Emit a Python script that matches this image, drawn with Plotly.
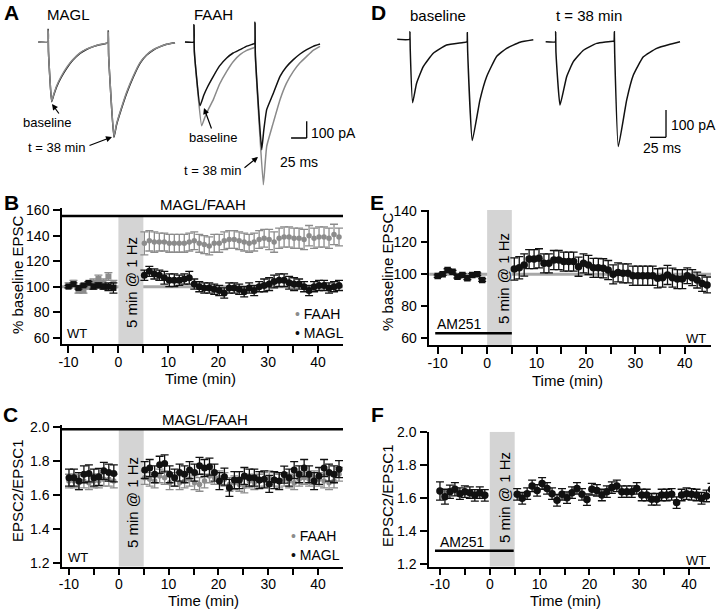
import plotly.graph_objects as go

W, H = 720, 609
FONT = "Liberation Sans, Arial, Helvetica, sans-serif"
BLACK = "#111111"
GREY = "#8c8c8c"
TRACE_GREY = "#8a8a8a"
SHADE = "#d4d4d4"
REFLINE = "#a8a8a8"

# ======================= DATA =======================
# Panel A - EPSC traces (time in ms, current in pA)
a_magl_t = [0, 15.5, 15.8, 16.3, 21.4, 25, 29.4, 37, 45.4, 55, 66.7, 77, 88, 98, 109.4,
            111.6, 112, 112.5, 121, 125, 130.7, 141.4, 152, 162.7, 173, 184, 195, 205.4, 218.7]
a_magl_black = [0, 0, 76, -60, -358, -315, -268, -210, -158, -110, -68, -45, -28, -16, -8,
                -6, 68, -80, -572, -500, -428, -308, -210, -128, -80, -48, -28, -14, -4]
a_magl_grey = [0, 0, 70, -60, -354, -310, -262, -204, -152, -106, -65, -43, -27, -15, -8,
               -6, 62, -80, -566, -494, -422, -300, -204, -124, -78, -46, -27, -14, -4]

a_faah_black_t = [0, 14, 14.3, 15, 24, 30, 36, 45.3, 55, 66.7, 77, 88, 98, 109,
                  111.6, 112, 112.6, 122.7, 126, 130.7, 140, 152, 162, 173.3, 184, 194.7, 205, 216]
a_faah_black = [0, 0, 104, -60, -382, -320, -270, -206, -145, -96, -66, -46, -26, -12,
                -8, 118, -80, -646, -530, -406, -320, -206, -150, -106, -72, -46, -26, -12]
a_faah_grey_t = [0, 14, 14.3, 15, 26.7, 32, 38, 45.3, 55, 66.7, 77, 88, 98, 109,
                 111.6, 112, 112.6, 125.3, 128, 130.7, 140, 152, 162, 173.3, 184, 194.7, 205, 216]
a_faah_grey = [0, 0, 104, -60, -502, -450, -400, -346, -255, -176, -118, -76, -52, -36,
               -30, 118, -90, -856, -740, -626, -500, -346, -250, -176, -125, -86, -50, -26]

# Panel D - EPSC traces (time in ms, current in pA)
d_base_t = [0, 19.3, 19.8, 20.3, 24, 30.2, 40.6, 56.3, 77, 103, 108.9,
            109.4, 109.9, 117.2, 129.2, 139.6, 155.2, 170.8, 191.7, 212.5]
d_base_i = [0, 0, 28, -40, -232, -161, -100, -51, -21, -12, -9,
            24, -40, -371, -222, -137, -63, -33, -11, -2]
d_t38_t = [0, 15.1, 15.6, 16.1, 22.4, 32.8, 43.2, 58.9, 79.7, 105.7,
           106.8, 107.3, 107.8, 113.5, 126.6, 137, 152.6, 173.4, 194.3, 209.9]
d_t38_i = [0, 0, 37, -40, -232, -128, -73, -31, -6, 2,
           0, 37, -40, -384, -213, -122, -55, -24, -9, 0]

# Time axes (min)
pre_t = [-10, -9, -8, -7, -6, -5, -4, -3, -2, -1]
post_t_left = [5.2, 6.2, 7.2, 8.2, 9.2, 10.2, 11.2, 12.2, 13.2, 14.2,
               15.2, 16.2, 17.2, 18.2, 19.2, 20.2, 21.2, 22.2, 23.2, 24.2,
               25.2, 26.2, 27.2, 28.2, 29.2, 30.2, 31.2, 32.2, 33.2, 34.2,
               35.2, 36.2, 37.2, 38.2, 39.2, 40.2, 41.2, 42.2, 43.2, 44.2]
post_t_right = [5.5, 6.5, 7.5, 8.5, 9.5, 10.5, 11.5, 12.5, 13.5, 14.5,
                15.5, 16.5, 17.5, 18.5, 19.5, 20.5, 21.5, 22.5, 23.5, 24.5,
                25.5, 26.5, 27.5, 28.5, 29.5, 30.5, 31.5, 32.5, 33.5, 34.5,
                35.5, 36.5, 37.5, 38.5, 39.5, 40.5, 41.5, 42.5, 43.5, 44.5]

# Panel B - % baseline EPSC
b_magl_pre = [100, 102, 99, 101, 103, 100, 101, 100, 100, 99]
b_magl_pre_err = [1, 1, 1, 1, 1, 2, 2, 2, 3, 4]
b_faah_pre = [101, 103, 97, 97, 100, 103, 106, 103, 108, 102]
b_faah_pre_err = [2, 2, 2, 2, 2, 3, 3, 3, 3, 3]
b_magl_post = [109, 112, 110, 109, 107, 105, 105, 105, 106, 107,
               102, 100, 99, 99, 98, 97, 95, 99, 99, 98,
               96, 99, 97, 100, 101, 102, 104, 105, 105, 103,
               102, 102, 100, 97, 100, 101, 101, 99, 100, 101]
b_magl_post_err = [4, 4, 4, 4, 5, 5, 5, 4, 4, 5,
                   4, 4, 4, 4, 4, 4, 4, 4, 4, 4,
                   4, 4, 4, 4, 5, 5, 5, 5, 5, 5,
                   5, 4, 4, 4, 4, 4, 4, 4, 4, 4]
b_faah_post = [134, 136, 135, 135, 135, 134, 134, 134, 134, 135,
               136, 134, 133, 132, 134, 134, 136, 137, 137, 136,
               135, 134, 135, 137, 138, 137, 135, 138, 139, 139,
               138, 138, 137, 140, 138, 139, 139, 138, 141, 139]
b_faah_post_err = [9, 8, 8, 7, 7, 7, 7, 7, 7, 7,
                   7, 7, 7, 7, 7, 7, 7, 7, 7, 7,
                   7, 7, 7, 7, 7, 8, 8, 8, 8, 8,
                   8, 8, 8, 8, 8, 8, 8, 8, 8, 7]

# Panel C - paired-pulse ratio
c_magl_pre = [1.70, 1.70, 1.68, 1.72, 1.725, 1.70, 1.705, 1.74, 1.73, 1.725]
c_magl_pre_err = [0.05, 0.05, 0.05, 0.05, 0.05, 0.05, 0.05, 0.05, 0.05, 0.05]
c_faah_pre = [1.68, 1.68, 1.67, 1.68, 1.67, 1.68, 1.68, 1.69, 1.69, 1.68]
c_faah_pre_err = [0.04, 0.04, 0.04, 0.04, 0.04, 0.04, 0.04, 0.04, 0.04, 0.04]
c_magl_post = [1.745, 1.757, 1.72, 1.776, 1.784, 1.72, 1.70, 1.73, 1.72, 1.745,
               1.73, 1.77, 1.757, 1.765, 1.73, 1.68, 1.706, 1.64, 1.686, 1.686,
               1.71, 1.70, 1.70, 1.686, 1.69, 1.663, 1.686, 1.68, 1.718, 1.70,
               1.745, 1.72, 1.757, 1.72, 1.68, 1.71, 1.757, 1.73, 1.72, 1.75]
c_magl_post_err = [0.05] * 40
c_faah_post = [1.70, 1.69, 1.68, 1.71, 1.70, 1.67, 1.69, 1.67, 1.68, 1.69,
               1.67, 1.66, 1.68, 1.71, 1.70, 1.70, 1.69, 1.66, 1.67, 1.66,
               1.65, 1.68, 1.67, 1.68, 1.69, 1.70, 1.69, 1.68, 1.69, 1.68,
               1.67, 1.69, 1.70, 1.69, 1.70, 1.69, 1.68, 1.67, 1.68, 1.72]
c_faah_post_err = [0.04] * 40

# Panel E - % baseline EPSC with AM251
e_pre = [98.8, 100, 102.6, 101.5, 98.4, 99.5, 97.4, 99.5, 100, 96.3]
e_pre_err = [0.8] * 10
e_post = [103.2, 104, 105.8, 109.5, 109.5, 110, 106.8, 106.8, 108.9, 108.9,
          107.9, 107.9, 107.9, 104.7, 106.8, 105.8, 104, 104, 103.7, 102.6,
          99.9, 101.1, 100.5, 100.5, 99, 99, 99, 99, 99, 97.4,
          97.8, 99.5, 97.8, 96.9, 96.9, 99, 97.8, 96.3, 94.2, 93.2]
e_post_err = [7, 7, 7, 6, 6, 6, 6, 6, 6, 6,
              6, 6, 6, 6, 6, 6, 6, 6, 6, 6,
              6, 6, 6, 6, 6, 6, 6, 6, 6, 6,
              6, 6, 6, 6, 6, 5, 5, 5, 5, 5]

# Panel F - paired-pulse ratio with AM251
f_pre = [1.644, 1.61, 1.64, 1.655, 1.628, 1.64, 1.634, 1.618, 1.634, 1.618]
f_pre_err = [0.055, 0.045, 0.04, 0.04, 0.035, 0.035, 0.035, 0.035, 0.035, 0.035]
f_post = [1.624, 1.60, 1.628, 1.675, 1.648, 1.69, 1.66, 1.628, 1.588, 1.624,
          1.604, 1.634, 1.66, 1.624, 1.592, 1.655, 1.648, 1.62, 1.64, 1.665,
          1.675, 1.64, 1.64, 1.64, 1.66, 1.62, 1.62, 1.594, 1.594, 1.62,
          1.62, 1.624, 1.574, 1.62, 1.628, 1.624, 1.62, 1.60, 1.614, 1.655]
f_post_err = [0.035] * 40

x_tickvals = [-10, -5, 0, 5, 10, 15, 20, 25, 30, 35, 40]
x_ticktext = ["-10", "", "0", "", "10", "", "20", "", "30", "", "40"]
b_ticks = [60, 80, 100, 120, 140, 160]
e_ticks = [60, 80, 100, 120, 140]
ppr_ticks = [1.2, 1.4, 1.6, 1.8, 2.0]
ppr_text = ["1.2", "1.4", "1.6", "1.8", "2.0"]

# ======================= LAYOUT HELPERS =======================
def fx(x):
    return x / W


def fy(y):
    return 1 - y / H


def dom_x(x0, x1):
    return [fx(x0), fx(x1)]


def dom_y(y_top, y_bot):
    return [fy(y_bot), fy(y_top)]


fig = go.Figure()


def hidden_axes(n, xd, yd, xr, yr):
    fig.layout[f"xaxis{n}"] = dict(domain=xd, range=xr, visible=False, anchor=f"y{n}", fixedrange=True)
    fig.layout[f"yaxis{n}"] = dict(domain=yd, range=yr, visible=False, anchor=f"x{n}", fixedrange=True)


def data_axes(n, xd, yd, xr, yr, yticks, ytext=None):
    common = dict(showline=True, linecolor="black", linewidth=1.5, ticks="outside",
                  ticklen=7, tickwidth=1.5, tickcolor="black", showgrid=False,
                  zeroline=False, tickfont=dict(family=FONT, size=14, color="black"),
                  fixedrange=True, automargin=False)
    fig.layout[f"xaxis{n}"] = dict(domain=xd, range=xr, anchor=f"y{n}",
                                   tickmode="array", tickvals=x_tickvals, ticktext=x_ticktext,
                                   ticklabelstandoff=-3, **common)
    fig.layout[f"yaxis{n}"] = dict(domain=yd, range=yr, anchor=f"x{n}",
                                   tickmode="array", tickvals=yticks,
                                   ticktext=ytext if ytext else [str(v) for v in yticks],
                                   ticklabelstandoff=1, **common)


# trace panels
hidden_axes(1, dom_x(35.8, 180.2), dom_y(15, 190), [-4, 227], [-888, 162])
hidden_axes(2, dom_x(182.5, 326.9), dom_y(15, 190), [-4, 227], [-888, 162])
hidden_axes(3, dom_x(394.7, 544.5), dom_y(15, 190), [-4, 230], [-552, 89])
hidden_axes(4, dom_x(543.1, 692.9), dom_y(15, 190), [-4, 230], [-543, 98])

# time course panels
data_axes(5, dom_x(62, 343), dom_y(208.3, 344), [-11.3, 45], [55, 161.5], b_ticks)
data_axes(6, dom_x(62, 343), dom_y(425, 566.7), [-11.4, 45], [1.176, 2.01], ppr_ticks, ppr_text)
data_axes(7, dom_x(429.3, 711), dom_y(210, 345), [-11.7, 45.3], [55.4, 140.4], e_ticks)
data_axes(8, dom_x(429, 710), dom_y(431.7, 566.7), [-12.2, 44.2], [1.185, 2.004], ppr_ticks, ppr_text)


def line_trace(n, x, y, color, width=1.5):
    fig.add_trace(go.Scatter(x=x, y=y, mode="lines",
                             line=dict(color=color, width=width, shape="spline", smoothing=0.4),
                             xaxis=f"x{n}", yaxis=f"y{n}", showlegend=False, hoverinfo="skip"))


line_trace(1, a_magl_t, a_magl_black, BLACK)
line_trace(1, a_magl_t, a_magl_grey, TRACE_GREY)
line_trace(2, a_faah_grey_t, a_faah_grey, TRACE_GREY)
line_trace(2, a_faah_black_t, a_faah_black, BLACK)
line_trace(3, d_base_t, d_base_i, BLACK)
line_trace(4, d_t38_t, d_t38_i, BLACK)


def pts(n, x, y, err, color, symbol="circle", size=7, thick=1.3, cap=4):
    fig.add_trace(go.Scatter(
        x=x, y=y, mode="markers", xaxis=f"x{n}", yaxis=f"y{n}", showlegend=False,
        marker=dict(color=color, symbol=symbol, size=size, line=dict(width=0)),
        error_y=dict(type="data", array=err, visible=True, color=color, thickness=thick, width=cap),
        hoverinfo="skip"))


# B
pts(5, pre_t, b_faah_pre, b_faah_pre_err, GREY, "square", 6)
pts(5, pre_t, b_magl_pre, b_magl_pre_err, BLACK, "square", 6)
pts(5, post_t_left, b_faah_post, b_faah_post_err, GREY, "circle", 5.5)
pts(5, post_t_left, b_magl_post, b_magl_post_err, BLACK, "circle", 7)
# C
pts(6, pre_t, c_faah_pre, c_faah_pre_err, GREY, "circle", 5.5)
pts(6, pre_t, c_magl_pre, c_magl_pre_err, BLACK, "circle", 7)
pts(6, post_t_left, c_faah_post, c_faah_post_err, GREY, "circle", 5.5)
pts(6, post_t_left, c_magl_post, c_magl_post_err, BLACK, "circle", 7)
# E
pts(7, pre_t, e_pre, e_pre_err, BLACK, "square", 6.5)
pts(7, post_t_right, e_post, e_post_err, BLACK, "circle", 7.5)
# F
pts(8, pre_t, f_pre, f_pre_err, BLACK, "circle", 7.5)
pts(8, post_t_right, f_post, f_post_err, BLACK, "circle", 7.5)

# ======================= SHAPES =======================
shapes = []


def shade(n, ylo, yhi):
    shapes.append(dict(type="rect", xref=f"x{n}", yref=f"y{n}", x0=0, x1=5, y0=ylo, y1=yhi,
                       fillcolor=SHADE, line=dict(width=0), layer="below"))


def hline(n, y, color, width, x0=None, x1=None, layer="above"):
    if x0 is None:
        shapes.append(dict(type="line", xref=f"x{n} domain", yref=f"y{n}", x0=0, x1=1, y0=y, y1=y,
                           line=dict(color=color, width=width), layer=layer))
    else:
        shapes.append(dict(type="line", xref=f"x{n}", yref=f"y{n}", x0=x0, x1=x1, y0=y, y1=y,
                           line=dict(color=color, width=width), layer=layer))


shade(5, 55, 155)
shade(6, 1.176, 1.985)
shade(7, 55.4, 140.4)
shade(8, 1.185, 2.004)
hline(5, 100, REFLINE, 3, layer="below")
hline(7, 100, REFLINE, 3, layer="below")
hline(5, 155.5, "black", 2.5)
hline(6, 1.985, "black", 2.5)
hline(7, 62.8, "black", 2.5, -10.5, 5)
hline(8, 1.282, "black", 2.5, -11, 4.8)

# scale bars
shapes.append(dict(type="line", xref="x2", yref="y2", x0=194.7, x1=194.7, y0=-476, y1=-576,
                   line=dict(color="black", width=1.3)))
shapes.append(dict(type="line", xref="x2", yref="y2", x0=169.7, x1=194.7, y0=-576, y1=-576,
                   line=dict(color="black", width=1.3)))
shapes.append(dict(type="line", xref="x4", yref="y4", x0=188, x1=188, y0=-250, y1=-350,
                   line=dict(color="black", width=1.3)))
shapes.append(dict(type="line", xref="x4", yref="y4", x0=163, x1=188, y0=-350, y1=-350,
                   line=dict(color="black", width=1.3)))

# ======================= ANNOTATIONS =======================
ann = []


def text(t, x, y, size=14, bold=False, xanchor="center", angle=0, color="black"):
    ann.append(dict(text=f"<b>{t}</b>" if bold else t, x=fx(x), y=fy(y), xref="paper", yref="paper",
                    xanchor=xanchor, yanchor="middle", showarrow=False, textangle=angle,
                    font=dict(family=FONT, size=size, color=color)))


def arrow(hx, hy, tx, ty):
    ann.append(dict(text="", x=fx(hx), y=fy(hy), xref="paper", yref="paper", showarrow=True,
                    ax=tx - hx, ay=ty - hy, axref="pixel", ayref="pixel",
                    arrowhead=2, arrowsize=1, arrowwidth=1.2, arrowcolor="black"))


# panel letters
for letter, x, y in [("A", 11, 13), ("B", 11, 202), ("C", 10, 415),
                     ("D", 378, 13), ("E", 377, 202), ("F", 377, 415)]:
    text(letter, x, y, size=21, bold=True)

# A labels
text("MAGL", 68, 15, 15)
text("FAAH", 213, 15, 15)
text("baseline", 47, 123, 13)
text("t = 38 min", 56, 147, 13)
text("baseline", 213, 138, 13)
text("t = 38 min", 212, 170, 13)
text("100 pA", 309, 133, 14, xanchor="left")
text("25 ms", 299, 162, 14)
arrow(52, 104, 60, 115)
arrow(112, 137, 88, 146)
arrow(204, 108, 212, 130)
arrow(258, 157, 243, 169)

# D labels
text("baseline", 438, 16, 15)
text("t = 38 min", 589, 16, 15)
text("100 pA", 669, 125, 14, xanchor="left")
text("25 ms", 662, 148, 14)

# B/C/E/F labels
text("MAGL/FAAH", 203, 204, 15)
text("MAGL/FAAH", 205, 419, 15)
text("% baseline EPSC", 17, 275, 15, angle=-90)
text("EPSC2/EPSC1", 17, 491, 15, angle=-90)
text("% baseline EPSC", 387, 272, 15, angle=-90)
text("EPSC2/EPSC1", 387, 496, 15, angle=-90)
text("Time (min)", 200, 378, 15)
text("Time (min)", 203, 600, 15)
text("Time (min)", 567, 380, 15)
text("Time (min)", 565, 600, 15)
for x, y in [(131, 283), (132, 503), (503, 279), (504, 497)]:
    text("5 min @ 1 Hz", x, y, 15, angle=-90)
text(f'<span style="color:{GREY}">•</span> FAAH', 293, 314, 14, xanchor="left")
text('<span style="color:#111111">•</span> MAGL', 293, 333, 14, xanchor="left")
text(f'<span style="color:{GREY}">•</span> FAAH', 289, 536, 14, xanchor="left")
text('<span style="color:#111111">•</span> MAGL', 289, 555, 14, xanchor="left")
text("WT", 77, 333, 13)
text("WT", 78, 557, 13)
text("WT", 696, 338, 13)
text("WT", 696, 560, 13)
text("AM251", 460, 324, 14)
text("AM251", 462, 542, 14)

fig.update_layout(width=W, height=H, margin=dict(l=0, r=0, t=0, b=0, autoexpand=False),
                  paper_bgcolor="white", plot_bgcolor="rgba(0,0,0,0)",
                  font=dict(family=FONT, size=14, color="black"),
                  shapes=shapes, annotations=ann, showlegend=False)

fig.write_html("out.html", config={"displayModeBar": False},
               post_script="document.body.style.margin='0';document.body.style.overflow='hidden';")
